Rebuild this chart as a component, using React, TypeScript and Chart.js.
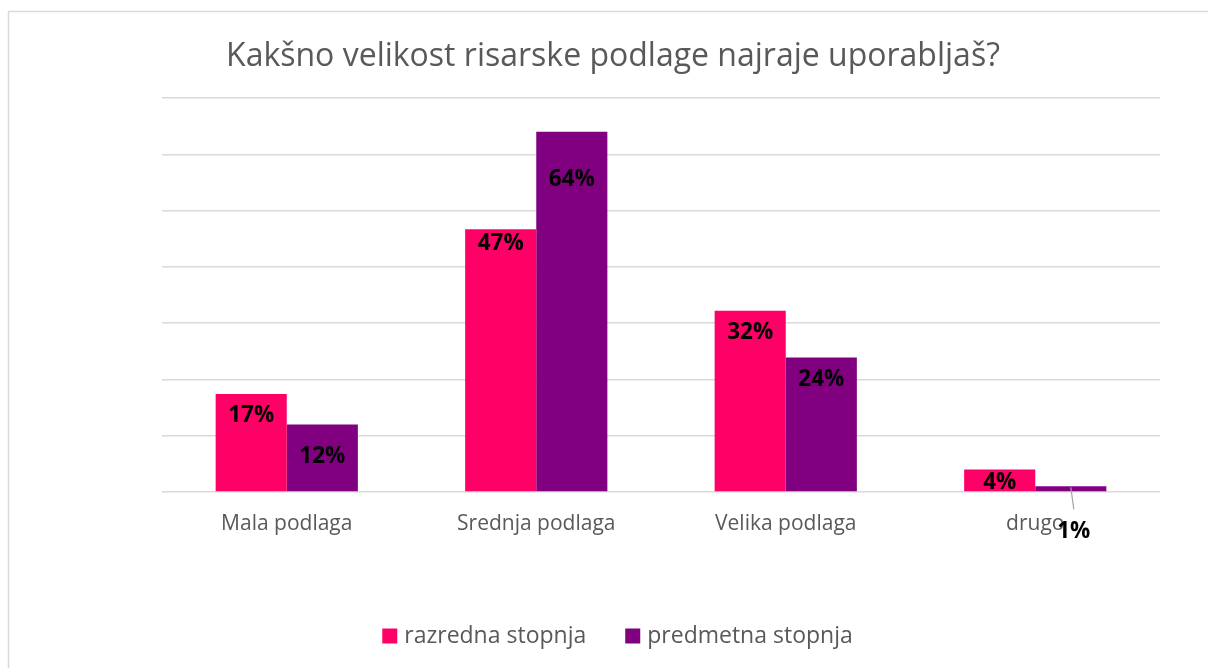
import React, { useEffect, useRef } from "react";
import { Chart, registerables } from "chart.js";

Chart.register(...registerables);

const categories = ["Mala podlaga", "Srednja podlaga", "Velika podlaga", "drugo"];
const razredna = [17.4, 46.7, 32.2, 4];
const predmetna = [12, 64, 23.9, 1];
const razrednaLabels = ["17%", "47%", "32%", "4%"];
const predmetnaLabels = ["12%", "64%", "24%", "1%"];
const seriesNames = ["razredna stopnja", "predmetna stopnja"];
const seriesColors = ["#FF0066", "#800080"];
const titleText = "Kakšno velikost risarske podlage najraje uporabljaš?";

const FONT = "'Open Sans', 'Noto Sans', sans-serif";

const decor = {
  id: "decor",
  beforeDraw(chart: any) {
    const { ctx } = chart;
    ctx.save();
    ctx.strokeStyle = "#d9d9d9";
    ctx.lineWidth = 1.5;
    ctx.strokeRect(8.5, 11.5, 1260, 700);
    ctx.restore();
  },
  afterDraw(chart: any) {
    const { ctx } = chart;
    ctx.save();
    // title
    ctx.fillStyle = "#595959";
    ctx.font = `32px ${FONT}`;
    ctx.textAlign = "center";
    ctx.textBaseline = "middle";
    ctx.fillText(titleText, 613, 57);
    // legend
    ctx.font = `23px ${FONT}`;
    const box = 15;
    const gapBox = 7;
    const gapItem = 39;
    const widths = chart.data.datasets.map((ds: any) => ctx.measureText(ds.label).width);
    let total = 0;
    widths.forEach((w: number, i: number) => {
      total += box + gapBox + w + (i < widths.length - 1 ? gapItem : 0);
    });
    let x = 617.5 - total / 2;
    const cy = 636;
    ctx.textAlign = "left";
    chart.data.datasets.forEach((ds: any, i: number) => {
      ctx.fillStyle = ds.backgroundColor;
      ctx.fillRect(x, cy - box / 2, box, box);
      x += box + gapBox;
      ctx.fillStyle = "#595959";
      ctx.fillText(ds.label, x, cy);
      x += widths[i] + gapItem;
    });
    ctx.restore();
  },
};

const valueLabels = {
  id: "valueLabels",
  afterDatasetsDraw(chart: any) {
    const { ctx } = chart;
    const labelSets = [razrednaLabels, predmetnaLabels];
    ctx.save();
    ctx.font = `bold 22.5px ${FONT}`;
    ctx.fillStyle = "#000000";
    ctx.textAlign = "center";
    ctx.textBaseline = "middle";
    chart.data.datasets.forEach((ds: any, di: number) => {
      const meta = chart.getDatasetMeta(di);
      meta.data.forEach((bar: any, i: number) => {
        const text = labelSets[di][i];
        let x = bar.x;
        let y = bar.y + 22;
        if (di === 1 && i === 1) y = bar.y + 48;
        if (di === 0 && i === 1) y = bar.y + 14;
        if (di === 1 && i === 0) y = bar.y + 32;
        if (di === 0 && i === 3) y = bar.y + 13;
        if (di === 1 && i === 3) {
          ctx.save();
          ctx.strokeStyle = "#a6a6a6";
          ctx.lineWidth = 1.2;
          ctx.beginPath();
          ctx.moveTo(x, bar.y + 1);
          ctx.lineTo(x + 3, bar.y + 23);
          ctx.stroke();
          ctx.restore();
          x = x + 3;
          y = bar.y + 45;
        }
        ctx.fillText(text, x, y);
      });
    });
    ctx.restore();
  },
};

export default function App() {
  const ref = useRef<HTMLCanvasElement>(null);
  useEffect(() => {
    if (!ref.current) return;
    const chart = new Chart(ref.current, {
      type: "bar",
      data: {
        labels: categories,
        datasets: [
          {
            label: seriesNames[0],
            data: razredna,
            backgroundColor: seriesColors[0],
            barPercentage: 1,
            categoryPercentage: 0.57,
          },
          {
            label: seriesNames[1],
            data: predmetna,
            backgroundColor: seriesColors[1],
            barPercentage: 1,
            categoryPercentage: 0.57,
          },
        ],
      },
      options: {
        animation: false,
        responsive: false,
        maintainAspectRatio: false,
        layout: { padding: { left: 162, right: 48, top: 98, bottom: 106 } },
        plugins: {
          tooltip: { enabled: false },
          title: { display: false },
          legend: { display: false },
        },
        scales: {
          x: {
            grid: { display: false, drawTicks: false },
            border: { display: false },
            ticks: {
              color: "#595959",
              font: { family: FONT, size: 21 },
              padding: 19,
            },
            afterFit(scale: any) {
              scale.height = 70;
            },
          },
          y: {
            min: 0,
            max: 70,
            ticks: { display: false, stepSize: 10 },
            grid: { color: "#d9d9d9", lineWidth: 1.5, drawTicks: false },
            border: { display: false },
            afterFit(scale: any) {
              scale.width = 0;
            },
          },
        },
      },
      plugins: [decor, valueLabels],
    });
    return () => chart.destroy();
  }, []);
  return (
    <div style={{ position: "fixed", left: 0, top: 0, width: 1208, height: 668, background: "#fff" }}>
      <canvas ref={ref} width={1208} height={668} style={{ width: 1208, height: 668, display: "block" }} />
    </div>
  );
}
